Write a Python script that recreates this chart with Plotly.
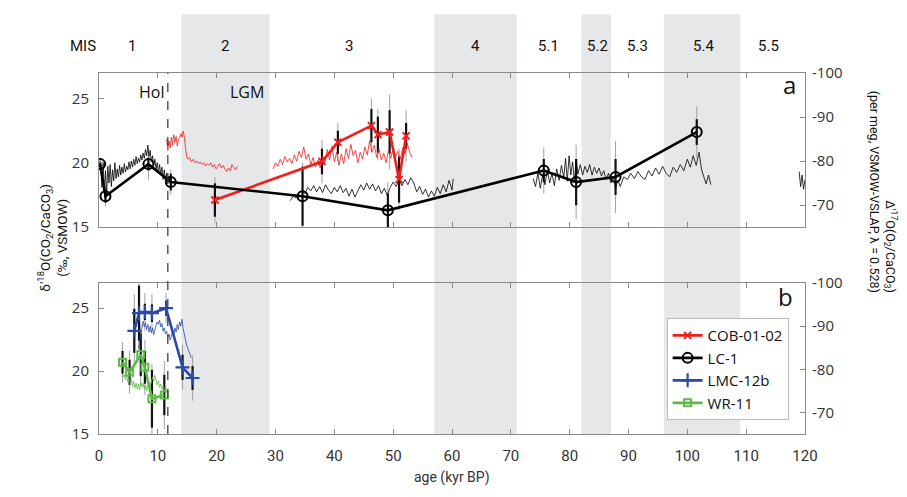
import plotly.graph_objects as go

# ---------------- data ----------------
mis_labels = ["MIS", "1", "2", "3", "4", "5.1", "5.2", "5.3", "5.4", "5.5"]
mis_label_x = [-2.7, 5.6, 21.5, 42.5, 64.0, 76.4, 84.7, 91.5, 102.7, 113.8]
band_start = [14, 57, 82, 96]
band_end = [29, 71, 87, 109]
holocene_boundary = 11.7

x_ticks = [0, 10, 20, 30, 40, 50, 60, 70, 80, 90, 100, 110, 120]
left_ticks = [15, 20, 25]
right_ticks = [-100, -90, -80, -70]

# panel a: d'18O points (left axis)
lc1_age = [0.2, 1.1, 8.4, 12.2, 34.6, 49.1, 75.6, 81.1, 87.8, 101.6]
lc1_d18 = [19.9, 17.4, 19.9, 18.5, 17.4, 16.3, 19.4, 18.5, 18.9, 22.4]
lc1_err1 = [0.2, 0.5, 0.5, 0.65, 2.3, 1.3, 0.9, 1.8, 1.4, 1.0]
lc1_err2 = [0.4, 0.8, 1.2, 1.0, 2.6, 2.2, 1.8, 2.9, 2.8, 2.0]

cob_age = [19.7, 37.9, 40.6, 46.3, 47.4, 49.4, 51.0, 52.2]
cob_d18 = [17.1, 20.1, 21.6, 22.9, 22.2, 22.4, 18.7, 22.1]
cob_err1 = [1.3, 1.0, 0.9, 1.3, 1.4, 1.7, 1.8, 1.0]
cob_err2 = [1.8, 1.7, 1.5, 2.1, 2.0, 2.9, 2.4, 2.0]

# panel b
lmc_age = [6.0, 6.8, 7.8, 9.0, 11.4, 14.2, 15.9]
lmc_d18 = [23.2, 24.6, 24.7, 24.6, 25.0, 20.3, 19.45]
lmc_err1 = [1.75, 2.2, 0.65, 0.7, 0.6, 1.0, 0.95]
lmc_err2 = [2.9, 3.0, 1.5, 1.5, 1.2, 1.8, 1.8]

wr_age = [4.0, 5.2, 7.1, 7.8, 9.0, 11.1]
wr_d18 = [20.7, 19.9, 21.3, 20.3, 17.8, 18.1]
wr_err1 = [0.9, 1.0, 1.7, 1.3, 2.3, 1.6]
wr_err2 = [1.6, 1.7, 2.5, 2.2, 2.8, 2.7]

# high-resolution D'17O records (right axis, per meg)
lc1_rec1_age = [0.3, 0.5, 0.7, 0.9, 1.1, 1.3, 1.5, 1.7, 1.9, 2.1, 2.3, 2.5, 2.7, 2.9, 3.1, 3.3, 3.5, 3.7, 3.9,
                4.1, 4.3, 4.5, 4.7, 4.9, 5.1, 5.3, 5.5, 5.7, 5.9, 6.1, 6.3, 6.5, 6.7, 6.9, 7.1, 7.3, 7.5, 7.7,
                7.9, 8.1, 8.3, 8.5, 8.7, 8.9, 9.1, 9.3, 9.5, 9.7, 9.9, 10.1, 10.3, 10.5, 10.7, 10.9, 11.1, 11.3,
                11.5, 11.7, 11.9, 12.1, 12.3]
lc1_rec1_d17 = [-78.5, -74.0, -79.5, -73.0, -77.8, -72.5, -78.8, -75.0, -79.2, -74.2, -78.0, -75.5, -79.6,
                -76.0, -78.2, -76.4, -79.0, -76.8, -78.6, -77.2, -79.4, -77.5, -78.8, -78.0, -79.8, -78.2,
                -80.0, -78.6, -80.4, -79.0, -81.0, -79.4, -80.6, -79.8, -81.4, -80.2, -81.8, -80.6, -82.6,
                -81.2, -83.6, -81.0, -82.4, -79.8, -81.2, -79.0, -80.4, -78.2, -79.6, -77.4, -79.2, -76.8,
                -78.6, -75.8, -78.0, -75.4, -77.2, -74.8, -76.6, -75.0, -76.2]

lc1_rec2_age = [32.5, 33.0, 33.5, 34.0, 34.5, 35.0, 35.5, 36.0, 36.5, 37.0, 37.5, 38.0, 38.5, 39.0, 39.5,
                40.0, 40.5, 41.0, 41.5, 42.0, 42.5, 43.0, 43.5, 44.0, 44.5, 45.0, 45.5, 46.0, 46.5, 47.0,
                47.5, 48.0, 48.5, 49.0, 49.5, 50.0, 50.5, 51.0, 51.5, 52.0, 52.5, 53.0, 53.5, 54.0, 54.5,
                55.0, 55.5, 56.0, 56.5, 57.0, 57.5, 58.0, 58.5, 59.0, 59.5, 60.0, 60.2]
lc1_rec2_d17 = [-71.0, -72.0, -71.6, -72.8, -73.2, -72.6, -74.0, -73.2, -74.4, -73.0, -74.2, -72.8, -74.6,
                -73.4, -72.6, -74.0, -73.0, -74.4, -72.8, -73.8, -72.0, -73.6, -71.8, -73.2, -74.6, -73.4,
                -75.0, -73.6, -74.8, -73.2, -74.4, -72.6, -73.8, -72.2, -74.0, -75.2, -74.2, -75.6, -74.4,
                -75.8, -74.6, -76.2, -75.0, -73.0, -74.2, -72.4, -73.6, -71.8, -73.2, -72.0, -74.0, -72.6,
                -74.6, -73.0, -75.6, -73.4, -76.0]

lc1_rec3_age = [73.8, 74.2, 74.6, 75.0, 75.4, 75.8, 76.2, 76.6, 77.0, 77.4, 77.8, 78.2, 78.6, 79.0, 79.3,
                79.6, 79.9, 80.2, 80.5, 80.8, 81.1, 81.4, 81.8, 82.2, 82.6, 83.0, 83.4, 83.8, 84.2, 84.6,
                85.0, 85.4, 85.8, 86.2, 86.6, 87.0, 87.4, 87.8, 88.2, 88.6, 89.2, 89.8, 90.4, 91.0, 91.6,
                92.2, 92.8, 93.4, 94.0, 94.6, 95.2, 95.8, 96.4, 97.0, 97.6, 98.2, 98.8, 99.4, 100.0, 100.5,
                101.0, 101.5, 102.0, 102.4, 102.8, 103.2, 103.6, 104.0]
lc1_rec3_d17 = [-76.0, -74.2, -77.4, -73.8, -76.8, -74.6, -78.0, -75.0, -77.2, -74.4, -78.2, -75.6, -79.0,
                -76.2, -80.6, -75.4, -81.2, -76.8, -79.8, -75.2, -80.4, -77.0, -79.2, -76.8, -78.8, -77.4,
                -79.2, -76.8, -78.6, -77.2, -78.4, -76.6, -77.8, -75.8, -77.2, -75.0, -76.4, -73.8, -75.6,
                -74.2, -76.4, -75.8, -77.2, -76.0, -77.6, -76.4, -75.8, -77.8, -76.6, -78.4, -77.0, -78.8,
                -77.2, -76.4, -78.6, -77.4, -79.2, -77.8, -80.4, -78.6, -81.2, -79.0, -82.0, -78.2, -76.4,
                -74.8, -76.8, -74.6]

lc1_rec4_age = [119.0, 119.25, 119.5, 119.75, 120.0]
lc1_rec4_d17 = [-77.6, -74.2, -76.8, -73.6, -75.8]

cob_rec1_age = [11.5, 11.7, 11.9, 12.1, 12.3, 12.5, 12.7, 12.9, 13.1, 13.3, 13.5, 13.7, 13.9, 14.1, 14.3,
                14.5, 14.7, 14.9, 15.1, 15.4, 15.7, 16.0, 16.3, 16.6, 16.9, 17.2, 17.5, 17.8, 18.1, 18.4,
                18.7, 19.0, 19.3, 19.6, 19.9, 20.2, 20.5, 20.8, 21.1, 21.4, 21.7, 22.0, 22.3, 22.6, 22.9,
                23.2, 23.5]
cob_rec1_d17 = [-85.0, -82.4, -84.6, -83.0, -85.4, -83.6, -86.0, -84.2, -85.6, -83.4, -84.8, -85.2, -86.2,
                -85.4, -86.8, -85.6, -83.0, -81.0, -80.4, -80.8, -79.8, -80.4, -79.6, -80.0, -79.4, -79.8,
                -79.2, -79.6, -78.9, -79.4, -79.0, -79.6, -78.6, -79.2, -78.2, -78.8, -79.4, -78.4, -79.0,
                -78.2, -77.6, -78.4, -77.8, -79.2, -78.6, -78.0, -78.8]

cob_rec2_age = [29.6, 30.0, 30.4, 30.8, 31.2, 31.6, 32.0, 32.4, 32.8, 33.2, 33.6, 34.0, 34.4, 34.8, 35.2,
                35.6, 36.0, 36.4, 36.8, 37.2, 37.6, 38.0, 38.4, 38.8, 39.2, 39.6, 40.0, 40.4, 40.8, 41.2,
                41.6, 42.0, 42.4, 42.8, 43.2, 43.6, 44.0, 44.4, 44.8, 45.2, 45.6, 46.0, 46.4, 46.8, 47.2,
                47.6, 48.0, 48.4, 48.8, 49.2, 49.6, 50.0, 50.4, 50.8, 51.2, 51.6, 52.0, 52.4, 52.8, 53.2]
cob_rec2_d17 = [-78.2, -79.6, -78.8, -80.4, -79.2, -81.0, -79.8, -80.6, -79.4, -81.4, -80.0, -82.2, -80.8,
                -83.2, -80.4, -81.6, -79.2, -80.8, -78.6, -80.2, -78.4, -81.2, -79.6, -82.6, -80.2, -83.4,
                -79.8, -82.0, -79.0, -81.6, -79.4, -82.8, -80.6, -83.8, -81.2, -82.4, -79.6, -82.0, -80.4,
                -83.2, -81.4, -84.6, -82.0, -83.6, -80.8, -82.8, -80.2, -81.8, -79.6, -82.4, -80.6, -83.2,
                -81.0, -82.2, -80.4, -83.0, -81.6, -84.0, -82.0, -80.8]

lmc_rec_age = [6.7, 6.9, 7.1, 7.3, 7.5, 7.7, 7.9, 8.1, 8.3, 8.5, 8.7, 8.9, 9.1, 9.3, 9.5, 9.7, 9.9, 10.1,
               10.3, 10.5, 10.7, 10.9, 11.1, 11.3, 11.5, 11.7, 11.9, 12.1, 12.3, 12.5, 12.7, 12.9, 13.1,
               13.3, 13.5, 13.7, 13.9, 14.1, 14.3, 14.5, 14.7, 14.9, 15.1, 15.3, 15.5, 15.7]
lmc_rec_d17 = [-84.8, -86.4, -88.2, -89.6, -91.2, -89.8, -90.8, -89.2, -90.4, -88.6, -90.0, -88.4, -89.6,
               -88.0, -89.4, -90.2, -91.0, -90.4, -91.4, -89.8, -90.6, -88.8, -89.6, -88.2, -88.8, -87.4,
               -88.2, -86.8, -87.6, -88.8, -87.8, -89.6, -88.6, -90.4, -89.2, -91.0, -90.0, -91.6, -89.4,
               -88.0, -86.6, -85.6, -84.8, -84.0, -83.2, -82.6]

wr_rec_age = [3.9, 4.1, 4.3, 4.5, 4.7, 4.9, 5.1, 5.3, 5.5, 5.7, 5.9, 6.1, 6.3, 6.5, 6.7, 6.9, 7.1, 7.3, 7.5,
              7.7, 7.9, 8.1, 8.3, 8.5, 8.7, 8.9, 9.1, 9.3, 9.5, 9.7, 9.9, 10.1, 10.3, 10.5, 10.7, 10.9, 11.1,
              11.3, 11.5]
wr_rec_d17 = [-79.0, -78.2, -78.8, -77.6, -78.4, -77.0, -78.0, -76.4, -77.6, -76.0, -77.2, -75.6, -76.8,
              -75.4, -76.6, -75.2, -77.0, -75.8, -76.8, -75.4, -76.4, -75.0, -76.2, -77.0, -76.0, -77.4,
              -78.2, -77.2, -78.6, -77.6, -76.4, -77.2, -75.8, -76.6, -75.4, -76.2, -75.0, -75.8, -75.2]

# ---------------- styles ----------------
RED = "#f21d1d"
BLACK = "#000000"
BLUE = "#2b4aa8"
GREEN = "#5dba47"
BAND = "#e6e7e8"
AXIS = "#8a8a8a"
TXT = "#333333"
NARROW = "Roboto, sans-serif"
SANS = "Open Sans, sans-serif"

X0, X1 = 0, 120


def to_paper_x(v):
    return (v - X0) / (X1 - X0)


fig = go.Figure()


def rec(x, y, color, yaxis, width=0.8):
    fig.add_trace(go.Scatter(x=x, y=y, mode="lines", line=dict(color=color, width=width),
                             yaxis=yaxis, xaxis="x" if yaxis in ("y", "y2") else "x2",
                             showlegend=False, hoverinfo="skip"))


def errs(x, y, e1, e2, yaxis):
    xa = "x" if yaxis in ("y", "y2") else "x2"
    fig.add_trace(go.Scatter(x=x, y=y, mode="markers", marker=dict(size=1, opacity=0),
                             error_y=dict(type="data", array=e2, color="#a0a0a0", thickness=1, width=0),
                             yaxis=yaxis, xaxis=xa, showlegend=False, hoverinfo="skip"))
    fig.add_trace(go.Scatter(x=x, y=y, mode="markers", marker=dict(size=1, opacity=0),
                             error_y=dict(type="data", array=e1, color="#111111", thickness=2.2, width=0),
                             yaxis=yaxis, xaxis=xa, showlegend=False, hoverinfo="skip"))


rec(lc1_rec1_age, lc1_rec1_d17, BLACK, "y2")
rec(lc1_rec2_age, lc1_rec2_d17, BLACK, "y2")
rec(lc1_rec3_age, lc1_rec3_d17, BLACK, "y2")
rec(lc1_rec4_age, lc1_rec4_d17, BLACK, "y2")
rec(cob_rec1_age, cob_rec1_d17, RED, "y2")
rec(cob_rec2_age, cob_rec2_d17, RED, "y2")
rec(lmc_rec_age, lmc_rec_d17, BLUE, "y4")
rec(wr_rec_age, wr_rec_d17, GREEN, "y4")

errs(lc1_age, lc1_d18, lc1_err1, lc1_err2, "y")
errs(cob_age, cob_d18, cob_err1, cob_err2, "y")
errs(lmc_age, lmc_d18, lmc_err1, lmc_err2, "y3")
errs(wr_age, wr_d18, wr_err1, wr_err2, "y3")

fig.add_trace(go.Scatter(x=cob_age, y=cob_d18, mode="lines+markers", name="COB-01-02",
                         line=dict(color=RED, width=2.6),
                         marker=dict(symbol="x-thin", size=7, line=dict(color=RED, width=2)),
                         xaxis="x", yaxis="y"))
fig.add_trace(go.Scatter(x=lc1_age, y=lc1_d18, mode="lines+markers", name="LC-1",
                         line=dict(color=BLACK, width=2.6),
                         marker=dict(symbol="circle-open", size=10, line=dict(color=BLACK, width=2)),
                         xaxis="x", yaxis="y"))
fig.add_trace(go.Scatter(x=lmc_age, y=lmc_d18, mode="lines+markers", name="LMC-12b",
                         line=dict(color=BLUE, width=2.6),
                         marker=dict(symbol="cross-thin", size=10, line=dict(color=BLUE, width=2.2)),
                         xaxis="x2", yaxis="y3"))
fig.add_trace(go.Scatter(x=wr_age, y=wr_d18, mode="lines+markers", name="WR-11",
                         line=dict(color=GREEN, width=2.6),
                         marker=dict(symbol="square-open", size=7, line=dict(color=GREEN, width=2)),
                         xaxis="x2", yaxis="y3"))

shapes = []
for s, e in zip(band_start, band_end):
    shapes.append(dict(type="rect", xref="x", yref="paper", x0=s, x1=e, y0=0, y1=1.163,
                       fillcolor=BAND, line=dict(width=0), layer="below"))
shapes.append(dict(type="line", xref="x", yref="paper", x0=holocene_boundary, x1=holocene_boundary,
                   y0=0, y1=1, line=dict(color="#333333", width=1.2, dash="dash")))

C = dict(xanchor="center", yanchor="middle", showarrow=False)
annotations = []
for lab, xx in zip(mis_labels, mis_label_x):
    annotations.append(dict(text=lab, x=to_paper_x(xx), y=1.0748, xref="paper", yref="paper",
                            font=dict(family=NARROW, size=15, color="#111111"), **C))
annotations += [
    dict(text="Hol", x=to_paper_x(9.0), y=0.947, xref="paper", yref="paper",
         font=dict(family=SANS, size=16, color="#111111"), **C),
    dict(text="LGM", x=to_paper_x(25.2), y=0.947, xref="paper", yref="paper",
         font=dict(family=SANS, size=16, color="#111111"), **C),
    dict(text="a", x=to_paper_x(117.3), y=0.968, xref="paper", yref="paper",
         font=dict(family=SANS, size=24, color="#111111"), **C),
    dict(text="b", x=to_paper_x(116.7), y=0.38, xref="paper", yref="paper",
         font=dict(family=SANS, size=24, color="#111111"), **C),
    dict(text="age (kyr BP)", x=0.5, y=-0.12, xref="paper", yref="paper",
         font=dict(family=NARROW, size=14, color=TXT), **C),
    dict(text="δ'<sup>18</sup>O(CO<sub>2</sub>/CaCO<sub>3</sub>)<br>(‰, VSMOW)", x=-0.066, y=0.545,
         xref="paper", yref="paper", textangle=-90,
         font=dict(family=NARROW, size=13.5, color="#111111"), **C),
    dict(text="Δ'<sup>17</sup>O(O<sub>2</sub>/CaCO<sub>3</sub>)<br>(per meg, VSMOW-VSLAP, λ = 0.528)",
         x=1.111, y=0.67, xref="paper", yref="paper", textangle=90, align="right",
         font=dict(family=NARROW, size=12.5, color="#111111"), **C),
]

xcommon = dict(range=[X0, X1], tickvals=x_ticks, ticks="inside", ticklen=5, tickcolor=AXIS,
               showline=True, linecolor=AXIS, linewidth=1, mirror="ticks", showgrid=False, zeroline=False,
               automargin=False, ticklabelstandoff=8)
ycommon = dict(range=[15, 27], tickvals=left_ticks, ticktext=[str(v) for v in left_ticks],
               ticks="inside", ticklen=5, tickcolor=AXIS,
               showline=True, linecolor=AXIS, linewidth=1, mirror=True, showgrid=False, zeroline=False,
               tickfont=dict(family=SANS, size=15, color=TXT), automargin=False, ticklabelstandoff=6)
rcommon = dict(range=[-65, -100], tickvals=right_ticks, ticktext=[str(v) for v in right_ticks],
               ticks="inside", ticklen=5, tickcolor=AXIS,
               side="right", showline=False, showgrid=False, zeroline=False,
               tickfont=dict(family=SANS, size=15, color=TXT), automargin=False, ticklabelstandoff=6)

fig.update_layout(
    width=907, height=497,
    margin=dict(l=99, r=102, t=73, b=63, autoexpand=False),
    paper_bgcolor="white", plot_bgcolor="rgba(0,0,0,0)",
    xaxis=dict(**xcommon, anchor="y", showticklabels=False),
    xaxis2=dict(**xcommon, anchor="y3", matches="x",
                tickfont=dict(family=NARROW, size=15, color=TXT)),
    yaxis=dict(**ycommon, domain=[0.5734, 1], anchor="x"),
    yaxis2=dict(**rcommon, overlaying="y", anchor="x"),
    yaxis3=dict(**ycommon, domain=[0, 0.4183], anchor="x2"),
    yaxis4=dict(**rcommon, overlaying="y3", anchor="x2"),
    shapes=shapes, annotations=annotations,
    legend=dict(x=0.804, y=0.321, xanchor="left", yanchor="top", bgcolor="white",
                bordercolor="#bbbbbb", borderwidth=1, font=dict(family=SANS, size=15, color="#111111"),
                itemwidth=30, tracegroupgap=0),
    showlegend=True,
)

fig.write_html("out.html", config={"displayModeBar": False},
               post_script="document.body.style.margin='0px';")
